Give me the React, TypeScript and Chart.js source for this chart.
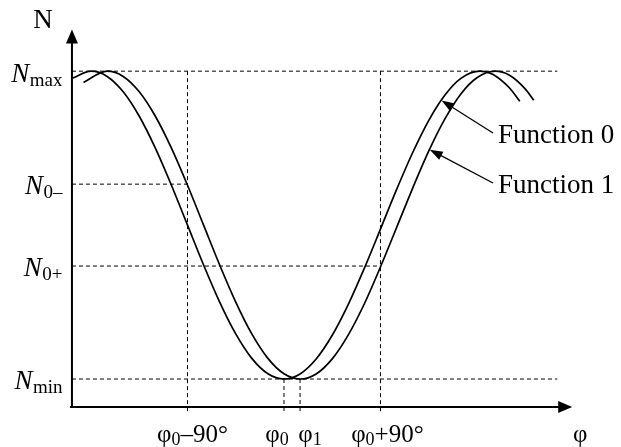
import React, { useEffect, useRef } from "react";
import { Chart, registerables } from "chart.js";

Chart.register(...registerables);

// Phase (degrees, relative to φ0) and normalised N values (Nmax = 1, Nmin = -1)
const func0Phase = [-197, -180, -165, -150, -135, -120, -105, -90, -75, -60, -45, -30, -15, 0, 15, 30, 45, 60, 75, 90, 105, 120, 135, 150, 165, 183, 195, 210, 220];
const func0Values = [0.956, 1, 0.966, 0.866, 0.707, 0.5, 0.259, 0, -0.259, -0.5, -0.707, -0.866, -0.966, -1, -0.967, -0.87, -0.716, -0.515, -0.28, -0.026, 0.23, 0.47, 0.679, 0.843, 0.953, 1, 0.979, 0.894, 0.805];

const func1Phase = [-187, -165, -150, -135, -120, -105, -90, -75, -60, -45, -30, -15, 0, 15, 30, 45, 60, 75, 90, 105, 120, 135, 150, 165, 180, 197, 210, 225, 233];
const func1Values = [0.927, 1, 0.966, 0.866, 0.707, 0.5, 0.259, 0, -0.259, -0.5, -0.707, -0.866, -0.966, -1, -0.967, -0.869, -0.713, -0.511, -0.272, -0.017, 0.239, 0.48, 0.688, 0.852, 0.957, 1, 0.975, 0.885, 0.811];

// Reference levels and phases
const levelValues = [1, 0.266, -0.266, -1]; // Nmax, N0-, N0+, Nmin
const levelNames = ["max", "0–", "0+", "min"];
const levelEnds = [255, -90, 90, 255];
const phaseTicks = [-90, 0, 15, 90]; // φ0-90°, φ0, φ1, φ0+90°
const phaseTickStarts = [1, -1, -1, 1];
const phaseMain = ["φ", "φ", "φ", "φ"];
const phaseSub = ["0", "0", "1", "0"];
const phaseRest = ["–90°", "", "", "+90°"];
const phaseLabelShift = [5, -7, 10, 7];

const seriesNames = ["Function 0", "Function 1"];
// where each label's arrow touches its curve (phase, value)
const arrowTipPhase = [147, 136];
const arrowTipValue = [0.81, 0.49];

const AXIS_X_AT = -1.182;
const AXIS_Y_AT = -197.8;
const AXIS_X_END = 267;
const AXIS_Y_END = 1.27;
const TICK_BOTTOM = -1.22;

const FONT = "'Liberation Serif', 'Times New Roman', serif";

export default function App() {
  const canvasRef = useRef<HTMLCanvasElement | null>(null);

  useEffect(() => {
    const canvas = canvasRef.current;
    if (!canvas) return;

    const dash = [4, 3];
    const datasets: any[] = [];

    levelValues.forEach((v, i) => {
      datasets.push({
        data: [
          { x: AXIS_Y_AT, y: v },
          { x: levelEnds[i], y: v },
        ],
        borderColor: "#000",
        borderWidth: 1,
        borderDash: dash,
        pointRadius: 0,
        tension: 0,
      });
    });
    phaseTicks.forEach((p, i) => {
      datasets.push({
        data: [
          { x: p, y: phaseTickStarts[i] },
          { x: p, y: TICK_BOTTOM },
        ],
        borderColor: "#000",
        borderWidth: 1,
        borderDash: dash,
        pointRadius: 0,
        tension: 0,
      });
    });
    datasets.push({
      label: seriesNames[0],
      data: func0Phase.map((x, i) => ({ x, y: func0Values[i] })),
      borderColor: "#000",
      borderWidth: 1.7,
      pointRadius: 0,
      cubicInterpolationMode: "monotone",
    });
    datasets.push({
      label: seriesNames[1],
      data: func1Phase.map((x, i) => ({ x, y: func1Values[i] })),
      borderColor: "#000",
      borderWidth: 1.7,
      pointRadius: 0,
      cubicInterpolationMode: "monotone",
    });

    const decor = {
      id: "decor",
      afterDatasetsDraw(chart: any) {
        const ctx = chart.ctx as CanvasRenderingContext2D;
        const xs = chart.scales.x;
        const ys = chart.scales.y;
        const X = (v: number) => xs.getPixelForValue(v);
        const Y = (v: number) => ys.getPixelForValue(v);
        ctx.save();
        ctx.strokeStyle = "#000";
        ctx.fillStyle = "#000";
        ctx.lineWidth = 2;
        const ax = X(AXIS_Y_AT);
        const ay = Y(AXIS_X_AT);
        const tipY = Y(AXIS_Y_END);
        const tipX = X(AXIS_X_END);
        // y axis
        ctx.beginPath();
        ctx.moveTo(ax, ay + 1);
        ctx.lineTo(ax, tipY + 10);
        ctx.stroke();
        ctx.beginPath();
        ctx.moveTo(ax, tipY);
        ctx.lineTo(ax - 6, tipY + 14);
        ctx.lineTo(ax + 6, tipY + 14);
        ctx.closePath();
        ctx.fill();
        // x axis
        ctx.beginPath();
        ctx.moveTo(ax - 2, ay);
        ctx.lineTo(tipX - 10, ay);
        ctx.stroke();
        ctx.beginPath();
        ctx.moveTo(tipX + 2, ay);
        ctx.lineTo(tipX - 12, ay - 6);
        ctx.lineTo(tipX - 12, ay + 6);
        ctx.closePath();
        ctx.fill();

        // axis titles
        ctx.textBaseline = "alphabetic";
        ctx.font = `27px ${FONT}`;
        ctx.textAlign = "center";
        ctx.fillText("N", ax - 29, tipY - 2);
        ctx.font = `25px ${FONT}`;
        ctx.fillText("φ", tipX + 10, 442);

        // y level labels
        const mainF = `italic 27px ${FONT}`;
        const subF = `19px ${FONT}`;
        levelValues.forEach((v, i) => {
          const base = Y(v) + (i === 0 ? 11 : 10);
          ctx.font = mainF;
          const wN = ctx.measureText("N").width;
          ctx.font = subF;
          const wS = ctx.measureText(levelNames[i]).width;
          const right = ax - 10;
          const start = right - wN - wS;
          ctx.textAlign = "left";
          ctx.font = mainF;
          ctx.fillText("N", start, base);
          ctx.font = subF;
          ctx.fillText(levelNames[i], start + wN + 0.5, base + 4);
        });

        // phase labels
        const pMain = `25px ${FONT}`;
        const pSub = `18px ${FONT}`;
        phaseTicks.forEach((p, i) => {
          const base = 442;
          ctx.font = pMain;
          const w1 = ctx.measureText(phaseMain[i]).width;
          const w3 = ctx.measureText(phaseRest[i]).width;
          ctx.font = pSub;
          const w2 = ctx.measureText(phaseSub[i]).width;
          const total = w1 + w2 + w3;
          const start = X(p) + phaseLabelShift[i] - total / 2;
          ctx.textAlign = "left";
          ctx.font = pMain;
          ctx.fillText(phaseMain[i], start, base);
          ctx.font = pSub;
          ctx.fillText(phaseSub[i], start + w1, base + 3);
          ctx.font = pMain;
          ctx.fillText(phaseRest[i], start + w1 + w2, base);
        });

        // function labels with arrows
        const tails = [
          { x: 493, y: 133 },
          { x: 493, y: 183 },
        ];
        ctx.font = `27px ${FONT}`;
        ctx.textAlign = "left";
        seriesNames.forEach((name, i) => {
          ctx.fillText(name, 498, [143, 193][i]);
          const t = { x: X(arrowTipPhase[i]), y: Y(arrowTipValue[i]) };
          const s = tails[i];
          const ang = Math.atan2(t.y - s.y, t.x - s.x);
          ctx.lineWidth = 1.3;
          ctx.beginPath();
          ctx.moveTo(s.x, s.y);
          ctx.lineTo(t.x - Math.cos(ang) * 8, t.y - Math.sin(ang) * 8);
          ctx.stroke();
          const L = 13;
          const W = 4.5;
          ctx.beginPath();
          ctx.moveTo(t.x, t.y);
          ctx.lineTo(t.x - Math.cos(ang) * L - Math.sin(ang) * W, t.y - Math.sin(ang) * L + Math.cos(ang) * W);
          ctx.lineTo(t.x - Math.cos(ang) * L + Math.sin(ang) * W, t.y - Math.sin(ang) * L - Math.cos(ang) * W);
          ctx.closePath();
          ctx.fill();
        });
        ctx.restore();
      },
    };

    const chart = new Chart(canvas, {
      type: "line",
      data: { datasets },
      options: {
        animation: false,
        responsive: true,
        maintainAspectRatio: false,
        layout: { padding: { left: 69.6, right: 47.6, top: 25, bottom: 29.5 } },
        plugins: { legend: { display: false }, tooltip: { enabled: false } },
        elements: { line: { borderCapStyle: "butt" } },
        scales: {
          x: { type: "linear", min: -200, max: 270, display: false },
          y: { type: "linear", min: -1.25, max: 1.3, display: false },
        },
        datasets: { line: { clip: false } as any },
      } as any,
      plugins: [decor],
    });
    return () => chart.destroy();
  }, []);

  return (
    <div style={{ position: "fixed", left: 0, top: 0, width: 621, height: 447, background: "#fff" }}>
      <canvas ref={canvasRef} />
    </div>
  );
}
